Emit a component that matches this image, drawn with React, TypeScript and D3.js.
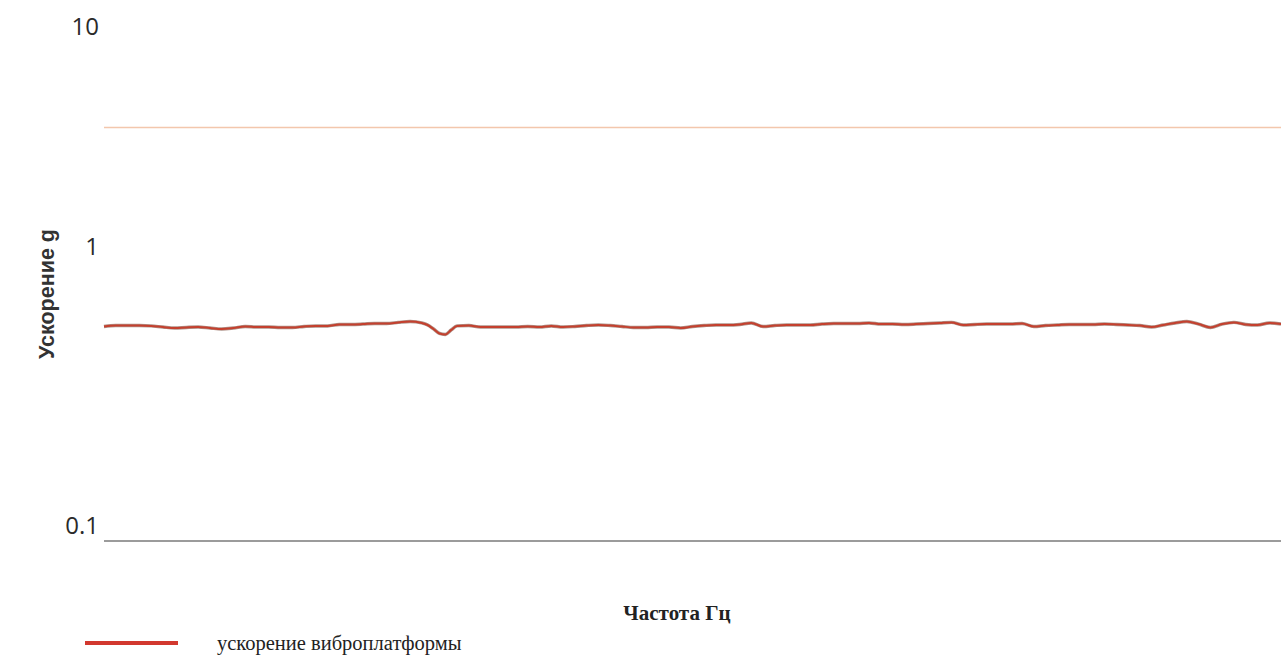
import React from "react";
import * as d3 from "d3";

// Frequency samples (Hz) and measured acceleration (g)
const freqs: number[] = [
  0, 2, 4, 6, 8, 10, 12, 14, 16, 18, 20, 22, 24, 26, 28, 30, 32, 34, 36, 38,
  40, 42, 44, 46, 48, 50, 52, 54, 55, 56, 57, 58, 59, 60, 62, 64, 66, 68, 70,
  72, 74, 76, 78, 80, 82, 84, 86, 88, 90, 92, 94, 96, 98, 100, 102, 104, 106,
  108, 110, 112, 114, 116, 118, 120, 122, 124, 126, 128, 130, 132, 134, 136,
  138, 140, 142, 144, 146, 148, 150, 152, 154, 156, 158, 160, 162, 164, 166,
  168, 170, 172, 174, 176, 178, 180, 182, 184, 186, 188, 190, 192, 194, 196,
  198, 200,
];
const accel: number[] = [
  0.623, 0.628, 0.628, 0.628, 0.626, 0.620, 0.615, 0.618, 0.620, 0.615, 0.610,
  0.615, 0.623, 0.620, 0.620, 0.618, 0.618, 0.623, 0.626, 0.626, 0.634, 0.634,
  0.636, 0.639, 0.639, 0.645, 0.650, 0.642, 0.631, 0.610, 0.587, 0.582, 0.605,
  0.626, 0.628, 0.620, 0.620, 0.620, 0.620, 0.623, 0.620, 0.626, 0.620, 0.623,
  0.628, 0.631, 0.628, 0.623, 0.618, 0.618, 0.620, 0.620, 0.615, 0.623, 0.628,
  0.631, 0.631, 0.634, 0.642, 0.623, 0.628, 0.631, 0.631, 0.631, 0.636, 0.639,
  0.639, 0.639, 0.642, 0.636, 0.636, 0.634, 0.636, 0.639, 0.642, 0.645, 0.631,
  0.634, 0.636, 0.636, 0.636, 0.639, 0.623, 0.628, 0.631, 0.634, 0.634, 0.634,
  0.636, 0.634, 0.631, 0.628, 0.620, 0.631, 0.642, 0.650, 0.636, 0.618, 0.636,
  0.645, 0.634, 0.631, 0.642, 0.636,
];
const limitValue: number[] = [3.4];
const yTicks: number[] = [0.1, 1, 10];
const yTickLabels: string[] = ["0.1", "1", "10"];
const yTickDy: number[] = [-17, -26, 24];

const xLabel = "Частота Гц";
const yLabel = "Ускорение g";
const legendLabel = "ускорение виброплатформы";

export default function App() {
  const W = 1281;
  const H = 655;
  const x = d3.scaleLinear().domain([0, 200]).range([104, 1281]);
  const y = d3.scaleLog().domain([0.1, 10]).range([541, 1]);

  const data = freqs.map((f, i) => [f, accel[i]] as [number, number]);
  const line = d3
    .line<[number, number]>()
    .x((d) => x(d[0]))
    .y((d) => y(d[1]))
    .curve(d3.curveMonotoneX);

  return (
    <svg
      width={W}
      height={H}
      style={{ position: "absolute", left: 0, top: 0, background: "#fff" }}
    >
      {limitValue.map((v, i) => (
        <line
          key={i}
          x1={x(0)}
          x2={x(200)}
          y1={y(v)}
          y2={y(v)}
          stroke="#f3c7ad"
          strokeWidth={1.6}
        />
      ))}
      <line x1={x(0)} x2={x(200)} y1={y(0.1)} y2={y(0.1)} stroke="#7a7a7a" strokeWidth={1.5} />
      {yTicks.map((t, i) => (
        <text
          key={t}
          x={99}
          y={y(t) + yTickDy[i]}
          textAnchor="end"
          dominantBaseline="central"
          fontFamily="'Open Sans', sans-serif"
          fontSize={24}
          fill="#2a2a2a"
        >
          {yTickLabels[i]}
        </text>
      ))}
      <path d={line(data) || ""} fill="none" stroke="#6e3a2a" strokeWidth={3.4} strokeOpacity={0.55} />
      <path d={line(data) || ""} fill="none" stroke="#c4402e" strokeWidth={2} />
      <text
        transform="translate(47,294) rotate(-90)"
        textAnchor="middle"
        dominantBaseline="central"
        fontFamily="'Liberation Sans', Arial, sans-serif"
        fontWeight="bold"
        fontSize={21.5}
        fill="#333"
      >
        {yLabel}
      </text>
      <text
        x={677}
        y={620}
        textAnchor="middle"
        fontFamily="'Liberation Serif', 'Times New Roman', serif"
        fontWeight="bold"
        fontSize={21}
        fill="#222"
      >
        {xLabel}
      </text>
      <line x1={85} x2={178} y1={643} y2={643} stroke="#d2382e" strokeWidth={4} />
      <text
        x={217}
        y={650}
        fontFamily="'Liberation Serif', 'Times New Roman', serif"
        fontSize={20.5}
        fill="#222"
      >
        {legendLabel}
      </text>
    </svg>
  );
}
